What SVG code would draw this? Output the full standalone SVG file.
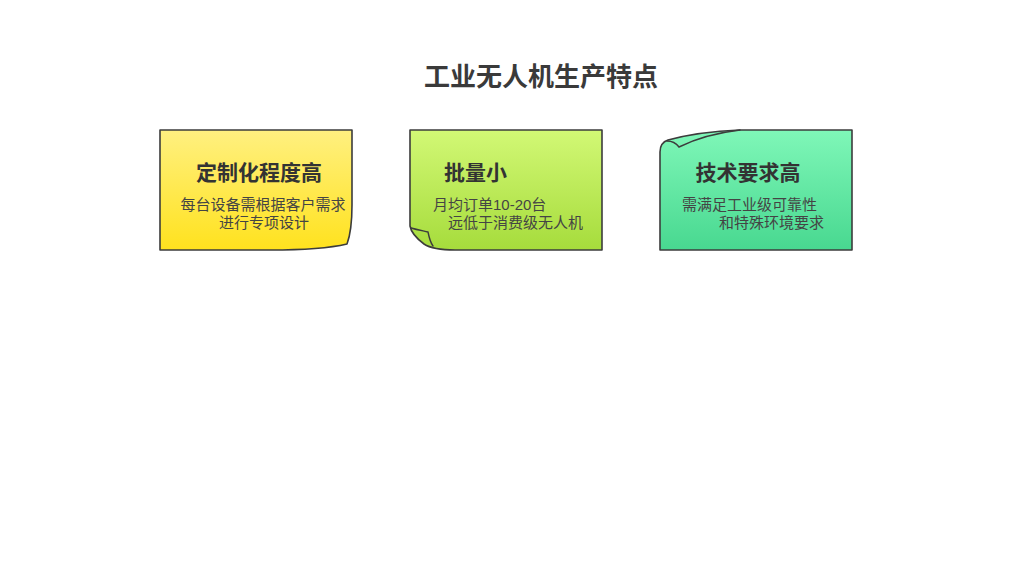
<svg xmlns="http://www.w3.org/2000/svg" width="1024" height="576" viewBox="0 0 1024 576">
<defs>
<linearGradient id="gy" x1="0" y1="0" x2="0" y2="1"><stop offset="0" stop-color="#fff080"/><stop offset="1" stop-color="#ffe21e"/></linearGradient>
<linearGradient id="gg" x1="0" y1="0" x2="0" y2="1"><stop offset="0" stop-color="#d2f875"/><stop offset="1" stop-color="#a6dc3c"/></linearGradient>
<linearGradient id="gt" x1="0" y1="0" x2="0" y2="1"><stop offset="0" stop-color="#7ff7b8"/><stop offset="1" stop-color="#48d890"/></linearGradient>
<style>
.card{stroke:#3c3c3c;stroke-width:1.6;stroke-linejoin:round}
.fold{stroke:#3c3c3c;stroke-width:1.4;fill:none;stroke-linecap:round}
.t{font-family:"Liberation Sans","Noto Sans CJK SC",sans-serif;fill:#333}
.h{font-size:26px;font-weight:bold;fill:#3a3a3a}
.ct{font-size:21px;font-weight:bold}
.b{font-size:15px;fill:#444}
</style>
</defs>
<rect width="1024" height="576" fill="#fff"/>
<text class="t h" x="541" y="86" text-anchor="middle">工业无人机生产特点</text>
<g id="node1">
<path class="card" fill="url(#gy)" d="M160,130 H352 V205 C352,225 350,236 347,244 C330,248 300,250 270,250 H160 Z"/>
<text class="t ct" x="259" y="180" text-anchor="middle">定制化程度高</text>
<text class="t b" x="263" y="210" text-anchor="middle">每台设备需根据客户需求</text>
<text class="t b" x="264" y="228" text-anchor="middle">进行专项设计</text>
</g>
<g id="node2">
<path class="card" fill="url(#gg)" d="M410,130 H602 V250 H455 C440,250 430,248 424,244 C416,238 411,232 410,226 Z"/>
<path class="fold" d="M411,228 C418,230 424,231 428,232 C429,237 430,242 433,246"/>
<text class="t ct" x="444" y="180">批量小</text>
<text class="t b" x="433" y="210">月均订单10-20台</text>
<text class="t b" x="448" y="228">远低于消费级无人机</text>
</g>
<g id="node3">
<path class="card" fill="url(#gt)" d="M740,130 H852 V250 H660 V152 C660,146 662,142 668,140 C690,134 715,131 740,130 Z"/>
<path class="fold" d="M667,141 C672,141 676,143 679,147 C695,139 715,133 740,130"/>
<text class="t ct" x="748" y="180" text-anchor="middle">技术要求高</text>
<text class="t b" x="682" y="210">需满足工业级可靠性</text>
<text class="t b" x="719" y="228">和特殊环境要求</text>
</g>
<g id="connectors"/>
</svg>
